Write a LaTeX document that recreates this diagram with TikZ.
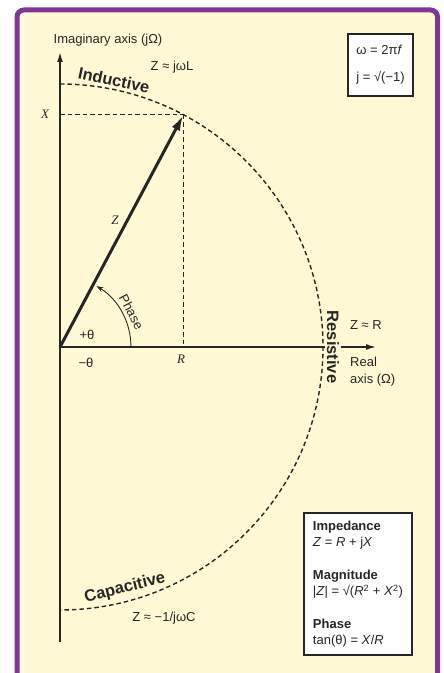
\documentclass[tikz,border=0pt]{standalone}
\usepackage{fontspec}
\setmainfont{Liberation Serif}
\setsansfont{Liberation Sans}
\usepackage{xcolor}
\usepackage{tikz}
\usetikzlibrary{arrows.meta,calc}
\definecolor{PlotInk}{HTML}{262626}
\definecolor{FramePurple}{HTML}{7E3794}
\definecolor{PaperYellow}{HTML}{FFF9D5}

\begin{document}
\begin{tikzpicture}[x=1pt,y=1pt]
  \path[use as bounding box] (0,0) rectangle (444,673);

  \tikzset{
    zpFrame/.style={
      draw=FramePurple,
      fill=PaperYellow,
      line width=5pt,
      rounded corners=7pt
    },
    zpAxis/.style={
      -{Latex[length=10pt,width=6pt]},
      draw=PlotInk,
      line width=1.5pt
    },
    zpVector/.style={
      -{Latex[length=16pt,width=9pt]},
      draw=PlotInk,
      line width=3pt
    },
    zpArc/.style={
      -{Stealth[length=7pt,width=5pt]},
      draw=PlotInk,
      line width=.9pt
    },
    zpDash/.style={
      draw=PlotInk,
      line width=1.4pt,
      dash pattern=on 4.5pt off 3pt
    },
    zpText/.style={
      font=\fontsize{13}{16.5}\selectfont\sffamily,
      text=PlotInk,
      inner sep=0pt
    },
    zpZone/.style={
      font=\fontsize{16.5}{18}\selectfont\sffamily\bfseries,
      text=PlotInk,
      inner sep=0pt
    },
    zpVar/.style={
      font=\fontsize{13}{15}\selectfont\rmfamily\itshape,
      text=PlotInk,
      inner sep=0pt
    },
    zpBox/.style={
      draw=PlotInk,
      fill=white,
      line width=2.6pt,
      align=left,
      inner sep=0pt,
      font=\fontsize{13}{16.5}\selectfont\sffamily,
      text=PlotInk
    }
  }

  \draw[zpFrame] (17,663) rectangle (437.5,-30);

  \coordinate (orig) at (60,326);
  \coordinate (imagTop) at (60,621);
  \coordinate (imagBottom) at (60,31);
  \coordinate (realEnd) at (376,326);
  \coordinate (zTip) at ($(orig)+(62:263)$);

  % locus of |Z| and the projections of the tip
  \draw[zpDash] (60,589) arc[start angle=90,end angle=-90,radius=263];
  \draw[zpDash] (zTip -| orig) -- (zTip);
  \draw[zpDash] (zTip) -- (zTip |- orig);

  \draw[zpAxis] (imagBottom) -- (imagTop);
  \draw[zpAxis] (orig) -- (realEnd);
  \draw[zpVector] (orig) -- (zTip);
  \draw[zpArc] ($(orig)+(71,0)$) arc[start angle=0,end angle=59,radius=71];

  \node[zpText] (imagLabel) at (108,633) {Imaginary axis (jΩ)};
  \node[zpText] (indLaw) at (172,606) {Z ≈ jωL};
  \node[zpZone,rotate=-12] (inductive) at (114,593) {Inductive};
  \node[zpVar] (xLabel) at (45,559) {X};
  \node[zpVar] (zLabel) at (115,453) {Z};
  \node[zpVar] (rLabel) at (181,314) {R};
  \node[zpText,rotate=-62] (phaseLabel) at (131.5,361) {Phase};
  \node[zpText] (plusTheta) at (87,338) {+θ};
  \node[zpText] (minusTheta) at (86,310) {−θ};

  \node[zpZone,rotate=-90,fill=PaperYellow,inner xsep=1pt,inner ysep=2pt]
    (resistive) at (333,326) {Resistive};
  \node[zpText,anchor=west] (resLaw) at (350,348) {Z ≈ R};
  \node[zpText,anchor=west,align=left] (realLabel) at (350,301.5)
    {Real\\axis (Ω)};

  \node[zpZone,rotate=14] (capacitive) at (125,85) {Capacitive};
  \node[zpText] (capLaw) at (164,55) {Z ≈ −1/jωC};

  \node[zpBox,minimum width=65pt,minimum height=62pt] (defBox) at (380.5,608)
    {ω = 2π\textit{f}\\[10.5pt]
     j = √(−1)};

  \node[zpBox,minimum width=108pt,minimum height=142pt] (formulaBox) at (358,89)
    {\textbf{Impedance}\\
     \textit{Z} = \textit{R} + j\textit{X}\\[16pt]
     \textbf{Magnitude}\\
     |\textit{Z}| = √(\textit{R}\textsuperscript{2} + \textit{X}\textsuperscript{2})\\[16pt]
     \textbf{Phase}\\
     tan(θ) = \textit{X}/\textit{R}};
\end{tikzpicture}
\end{document}
